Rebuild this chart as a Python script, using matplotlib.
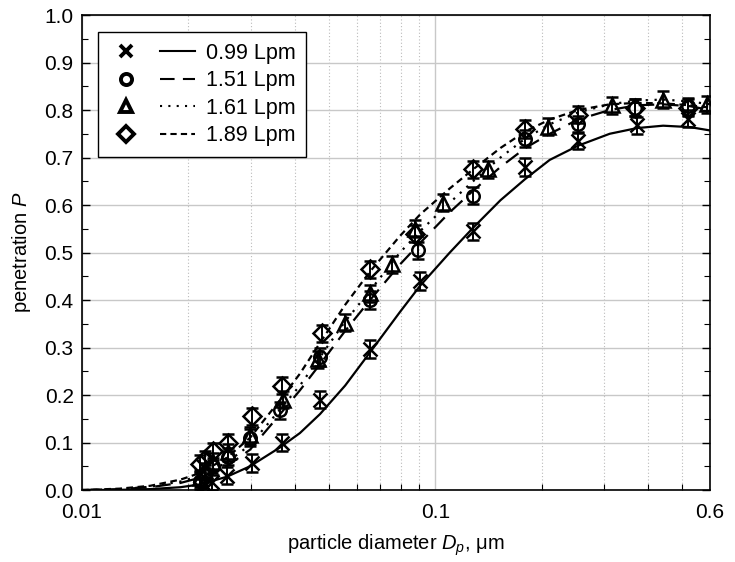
import matplotlib
matplotlib.use('Agg')
import matplotlib.pyplot as plt
from matplotlib.ticker import FixedLocator, NullFormatter, MultipleLocator
from matplotlib.legend_handler import HandlerTuple
from matplotlib.lines import Line2D

plt.rcParams['font.family'] = ['Liberation Sans', 'DejaVu Sans']
plt.rcParams['mathtext.fontset'] = 'custom'
plt.rcParams['mathtext.rm'] = 'Liberation Sans'
plt.rcParams['mathtext.it'] = 'Liberation Sans:italic'

# measured points (particle diameter in um, penetration)
d_099 = [0.0216, 0.0223, 0.0233, 0.0257, 0.0303, 0.0368, 0.0472, 0.0654, 0.0906, 0.128, 0.180, 0.254, 0.373, 0.52]
p_099 = [0.005, 0.01, 0.018, 0.03, 0.057, 0.10, 0.19, 0.297, 0.44, 0.545, 0.68, 0.735, 0.768, 0.782]

d_151 = [0.0216, 0.0223, 0.0235, 0.0259, 0.0299, 0.0364, 0.0472, 0.0654, 0.0894, 0.128, 0.180, 0.254, 0.368, 0.52]
p_151 = [0.02, 0.035, 0.05, 0.07, 0.11, 0.168, 0.28, 0.40, 0.505, 0.62, 0.74, 0.77, 0.805, 0.808]

d_161 = [0.0216, 0.0223, 0.0235, 0.0259, 0.0299, 0.037, 0.0465, 0.0556, 0.0654, 0.0755, 0.0877,
         0.1052, 0.1411, 0.2086, 0.3166, 0.4416, 0.588]
p_161 = [0.025, 0.04, 0.06, 0.08, 0.115, 0.19, 0.275, 0.352, 0.414, 0.475, 0.55,
         0.605, 0.675, 0.765, 0.81, 0.822, 0.812]

d_189 = [0.0216, 0.0223, 0.0235, 0.0259, 0.0303, 0.0368, 0.0478, 0.0654, 0.0877, 0.128, 0.180, 0.254, 0.368, 0.52]
p_189 = [0.055, 0.065, 0.082, 0.10, 0.155, 0.22, 0.33, 0.465, 0.54, 0.675, 0.76, 0.79, 0.805, 0.805]

p_err = 0.018

# fitted curves
d_fit = [0.01, 0.0128, 0.0156, 0.019, 0.0216, 0.0257, 0.0299, 0.0364, 0.0414, 0.0472, 0.0556, 0.0654,
         0.0795, 0.0906, 0.110, 0.128, 0.153, 0.180, 0.211, 0.254, 0.312, 0.373, 0.442, 0.527, 0.60]
fit_099 = [0.0, 0.0005, 0.002, 0.006, 0.012, 0.028, 0.05, 0.09, 0.12, 0.16, 0.22, 0.29,
           0.375, 0.43, 0.50, 0.552, 0.61, 0.655, 0.695, 0.725, 0.75, 0.762, 0.767, 0.764, 0.757]
fit_151 = [0.0, 0.002, 0.006, 0.015, 0.026, 0.05, 0.085, 0.16, 0.21, 0.265, 0.335, 0.40,
           0.475, 0.52, 0.585, 0.63, 0.68, 0.72, 0.75, 0.78, 0.80, 0.81, 0.812, 0.808, 0.80]
fit_161 = [0.0, 0.002, 0.007, 0.018, 0.03, 0.058, 0.095, 0.17, 0.22, 0.28, 0.355, 0.42,
           0.50, 0.545, 0.605, 0.65, 0.70, 0.74, 0.77, 0.795, 0.812, 0.82, 0.822, 0.818, 0.812]
fit_189 = [0.0, 0.003, 0.009, 0.022, 0.036, 0.068, 0.11, 0.19, 0.245, 0.31, 0.39, 0.46,
           0.535, 0.58, 0.635, 0.675, 0.72, 0.755, 0.78, 0.80, 0.812, 0.815, 0.814, 0.81, 0.805]

labels = ['0.99 Lpm', '1.51 Lpm', '1.61 Lpm', '1.89 Lpm']

fig = plt.figure(figsize=(7.35, 5.62), dpi=100)
ax = fig.add_axes([0.1116, 0.128, 0.8544, 0.8453])

series = [
    (d_099, p_099, fit_099, 'x', 10, '-'),
    (d_151, p_151, fit_151, 'o', 9, (0, (7, 4))),
    (d_161, p_161, fit_161, '^', 10, (0, (1, 3))),
    (d_189, p_189, fit_189, 'D', 9, (0, (3, 2))),
]

handles = []
for d, p, fit, mk, ms, ls in series:
    ax.errorbar(d, p, yerr=p_err, fmt=mk, ms=ms, mfc='none', mec='k', mew=1.8,
                ecolor='k', elinewidth=1.4, capsize=4, capthick=1.4, zorder=3)
    ax.plot(d_fit, fit, color='k', lw=1.6, ls=ls, zorder=2)
    hm = Line2D([], [], marker=mk, ms=ms - 1, mfc='none', mec='k', mew=2.8, ls='none')
    hl = Line2D([], [], color='k', lw=1.5, ls=ls)
    handles.append((hm, hl))

ax.set_xscale('log')
ax.set_xlim(0.01, 0.6)
ax.set_ylim(0, 1.0)

ax.xaxis.set_major_locator(FixedLocator([0.01, 0.1, 0.6]))
ax.set_xticklabels(['0.01', '0.1', '0.6'])
ax.xaxis.set_minor_locator(FixedLocator([0.02, 0.03, 0.04, 0.05, 0.06, 0.07, 0.08, 0.09,
                                         0.2, 0.3, 0.4, 0.5]))
ax.xaxis.set_minor_formatter(NullFormatter())
ax.yaxis.set_major_locator(MultipleLocator(0.1))
ax.yaxis.set_minor_locator(MultipleLocator(0.05))
ax.yaxis.set_major_formatter(plt.FuncFormatter(lambda v, pos: f'{v:.1f}'))

ax.tick_params(which='both', direction='in', right=True, top=False, labelsize=15)
ax.tick_params(which='major', length=6, width=1)
ax.tick_params(which='minor', length=4, width=0.8)
ax.tick_params(axis='x', which='major', length=0, pad=9)
ax.tick_params(axis='y', pad=6)

ax.grid(which='major', axis='y', color='#c8c8c8', lw=1.0, ls='-')
ax.grid(which='major', axis='x', color='#c8c8c8', lw=1.0, ls='-')
ax.grid(which='minor', axis='x', color='#bbbbbb', lw=0.8, ls=(0, (1, 2)))
ax.set_axisbelow(True)
for s in ax.spines.values():
    s.set_linewidth(1.2)

ax.set_xlabel('particle diameter $D_p$, μm', fontsize=14.5, labelpad=8)
ax.set_ylabel('penetration $P$', fontsize=14.5, labelpad=8)

leg = ax.legend(handles, labels, handler_map={tuple: HandlerTuple(ndivide=None, pad=0.8)},
                loc='upper left', bbox_to_anchor=(0.0255, 0.964), handlelength=4.0,
                fontsize=15.5, frameon=True, fancybox=False, edgecolor='k',
                framealpha=1, borderpad=0.5, labelspacing=0.3, handletextpad=0.5,
                borderaxespad=0)
leg.get_frame().set_linewidth(1.0)

fig.savefig('out.png', dpi=100)
